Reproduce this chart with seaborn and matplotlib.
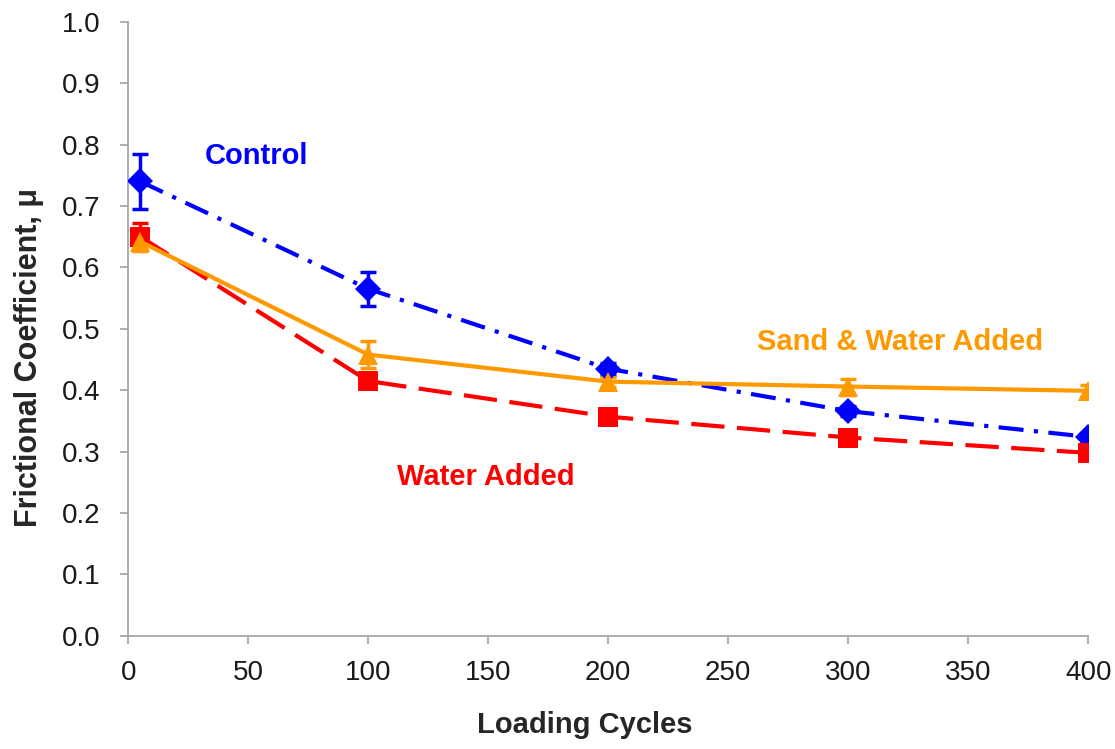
import matplotlib
matplotlib.use("Agg")
import matplotlib.pyplot as plt
import seaborn as sns
import pandas as pd
import numpy as np

cycles = [5, 100, 200, 300, 400]
control = [0.740, 0.565, 0.435, 0.366, 0.324]
control_err = [0.045, 0.028, 0.010, 0.008, 0.006]
water = [0.650, 0.415, 0.357, 0.323, 0.298]
water_err = [0.022, 0.008, 0.006, 0.006, 0.006]
sand_water = [0.642, 0.458, 0.414, 0.406, 0.399]
sand_water_err = [0.015, 0.022, 0.008, 0.013, 0.010]

series_names = ["Control", "Water Added", "Sand & Water Added"]
xticks = [0, 50, 100, 150, 200, 250, 300, 350, 400]
yticks = [0.0, 0.1, 0.2, 0.3, 0.4, 0.5, 0.6, 0.7, 0.8, 0.9, 1.0]

sns.set_theme(style="white")
plt.rcParams['font.family'] = ['Liberation Sans', 'DejaVu Sans']

fig = plt.figure(figsize=(11.15, 7.49), dpi=100)
ax = fig.add_axes([0.115, 0.151, 0.861, 0.820])

df = pd.DataFrame({
    "cycles": cycles * 3,
    "mu": control + water + sand_water,
    "series": [series_names[0]] * 5 + [series_names[1]] * 5 + [series_names[2]] * 5,
})

colors = {"Control": "#0000FF", "Water Added": "#FF0000", "Sand & Water Added": "#FF9900"}
styles = {
    "Control": dict(marker="D", ms=13, ls=(0, (6, 2.5, 1, 2.5)), lw=3),
    "Water Added": dict(marker="s", ms=14, ls=(0, (8, 3)), lw=3),
    "Sand & Water Added": dict(marker="^", ms=15, ls="-", lw=3),
}
errs = {"Control": control_err, "Water Added": water_err, "Sand & Water Added": sand_water_err}

for name in series_names:
    sub = df[df["series"] == name]
    st = styles[name]
    ax.errorbar(sub["cycles"], sub["mu"], yerr=errs[name], fmt="none",
                ecolor=colors[name], elinewidth=2.5, capsize=6, capthick=2.5, zorder=2)
    sns.lineplot(data=sub, x="cycles", y="mu", ax=ax, color=colors[name],
                 marker=st["marker"], markersize=st["ms"], linestyle=st["ls"],
                 linewidth=st["lw"], markeredgewidth=0, legend=False, zorder=3)

ax.set_xlim(0, 400)
ax.set_ylim(0, 1.0)
ax.set_xticks(xticks)
ax.set_yticks(yticks)
ax.set_yticklabels([f"{v:.1f}" for v in yticks])
for sp in ["top", "right"]:
    ax.spines[sp].set_visible(False)
for sp in ["left", "bottom"]:
    ax.spines[sp].set_color("#A0A0A0")
    ax.spines[sp].set_linewidth(1.2)
ax.tick_params(axis="both", which="major", direction="out", length=6, width=1.2,
               color="#A0A0A0", labelsize=20, labelcolor="#1a1a1a", left=True, bottom=True)
ax.tick_params(axis="x", pad=11)
ax.tick_params(axis="y", pad=14)
ax.set_xlabel("Loading Cycles", fontsize=21, fontweight="bold")
ax.set_ylabel("Frictional Coefficient, μ", fontsize=22, fontweight="bold")
ax.xaxis.set_label_coords(0.476, -0.122)
ax.yaxis.set_label_coords(-0.0875, 0.453)
ax.grid(False)

ax.text(32, 0.781, "Control", color="#0000FF", fontsize=21, fontweight="bold", va="center", ha="left")
ax.text(262, 0.478, "Sand & Water Added", color="#FF9900", fontsize=21, fontweight="bold", va="center", ha="left")
ax.text(112, 0.258, "Water Added", color="#FF0000", fontsize=21, fontweight="bold", va="center", ha="left")

fig.savefig("out.png", dpi=100)
